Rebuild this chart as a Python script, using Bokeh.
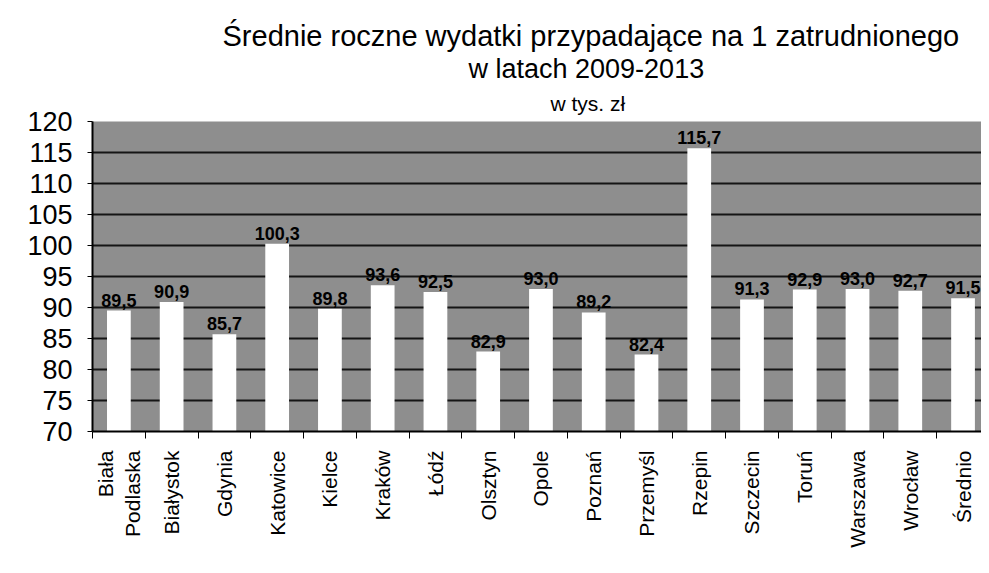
import math
from bokeh.plotting import figure
from bokeh.models import Range1d, FixedTicker, Title, ColumnDataSource
from bokeh.embed import file_html
from bokeh.resources import INLINE
from bokeh.core.properties import value

# ---- data ----
cities = ["Biała\nPodlaska", "Białystok", "Gdynia", "Katowice", "Kielce", "Kraków",
          "Łódź", "Olsztyn", "Opole", "Poznań", "Przemyśl", "Rzepin", "Szczecin",
          "Toruń", "Warszawa", "Wrocław", "Średnio"]
values = [89.5, 90.9, 85.7, 100.3, 89.8, 93.6, 92.5, 82.9, 93.0, 89.2, 82.4,
          115.7, 91.3, 92.9, 93.0, 92.7, 91.5]
y_ticks = [70, 75, 80, 85, 90, 95, 100, 105, 110, 115, 120]

title_1 = "Średnie roczne wydatki przypadające na 1 zatrudnionego"
title_2 = "w latach 2009-2013"
title_3 = "w tys. zł"

FONT = "Liberation Sans"

idx = list(range(len(cities)))
labels = [f"{v:.1f}".replace(".", ",") for v in values]
src = ColumnDataSource(dict(x=idx, top=values, lab=labels))

p = figure(width=981, height=565, output_backend="svg", toolbar_location=None,
           x_range=Range1d(-0.5, 16.35), y_range=Range1d(70, 120),
           min_border_left=92, min_border_right=0, min_border_top=121,
           min_border_bottom=134)

p.background_fill_color = "#8e8e8e"
p.border_fill_color = "white"
p.outline_line_color = None

p.vbar(x="x", top="top", bottom=0, width=0.45, source=src,
       fill_color="white", line_color=None)

p.text(x="x", y="top", text="lab", source=src, text_align="center",
       text_baseline="bottom", y_offset=-4, text_font=value(FONT),
       text_font_style="bold", text_font_size="18px", text_color="black")

# grid
p.xgrid.visible = False
p.ygrid.ticker = FixedTicker(ticks=y_ticks)
p.ygrid.grid_line_color = "#151515"
p.ygrid.grid_line_width = 2

# y axis
p.yaxis.ticker = FixedTicker(ticks=y_ticks)
p.yaxis.major_label_text_font = FONT
p.yaxis.major_label_text_font_size = "27px"
p.yaxis.major_label_text_color = "black"
p.yaxis.axis_line_color = "black"
p.yaxis.axis_line_width = 2
p.yaxis.major_tick_out = 5
p.yaxis.major_tick_in = 0
p.yaxis.minor_tick_line_color = None
p.yaxis.major_label_standoff = 15

# x axis
p.xaxis.ticker = FixedTicker(ticks=idx, minor_ticks=[i - 0.5 for i in range(len(cities) + 1)])
p.xaxis.major_label_overrides = {i: c for i, c in zip(idx, cities)}
p.xaxis.major_label_orientation = math.pi / 2
p.xaxis.major_label_text_font = FONT
p.xaxis.major_label_text_font_size = "21px"
p.xaxis.major_label_text_color = "black"
p.xaxis.axis_line_color = "black"
p.xaxis.axis_line_width = 2
p.xaxis.major_tick_out = 0
p.xaxis.major_tick_in = 0
p.xaxis.minor_tick_out = 7
p.xaxis.minor_tick_in = 0
p.xaxis.minor_tick_line_color = "black"
p.xaxis.minor_tick_line_width = 1
p.xaxis.major_label_standoff = 12

# titles: stacked above the frame (first added sits closest to the frame)
p.add_layout(Title(text=title_3, align="left", offset=458, standoff=13,
                   text_font=FONT, text_font_size="21px", text_font_style="normal",
                   text_color="black"), "above")
p.add_layout(Title(text=title_2, align="left", offset=376, standoff=0,
                   text_font=FONT, text_font_size="27px", text_font_style="normal",
                   text_color="black"), "above")
p.add_layout(Title(text=title_1, align="left", offset=130, standoff=0,
                   text_font=FONT, text_font_size="29px", text_font_style="normal",
                   text_color="black"), "above")

open("out.html", "w").write(file_html(p, INLINE))
